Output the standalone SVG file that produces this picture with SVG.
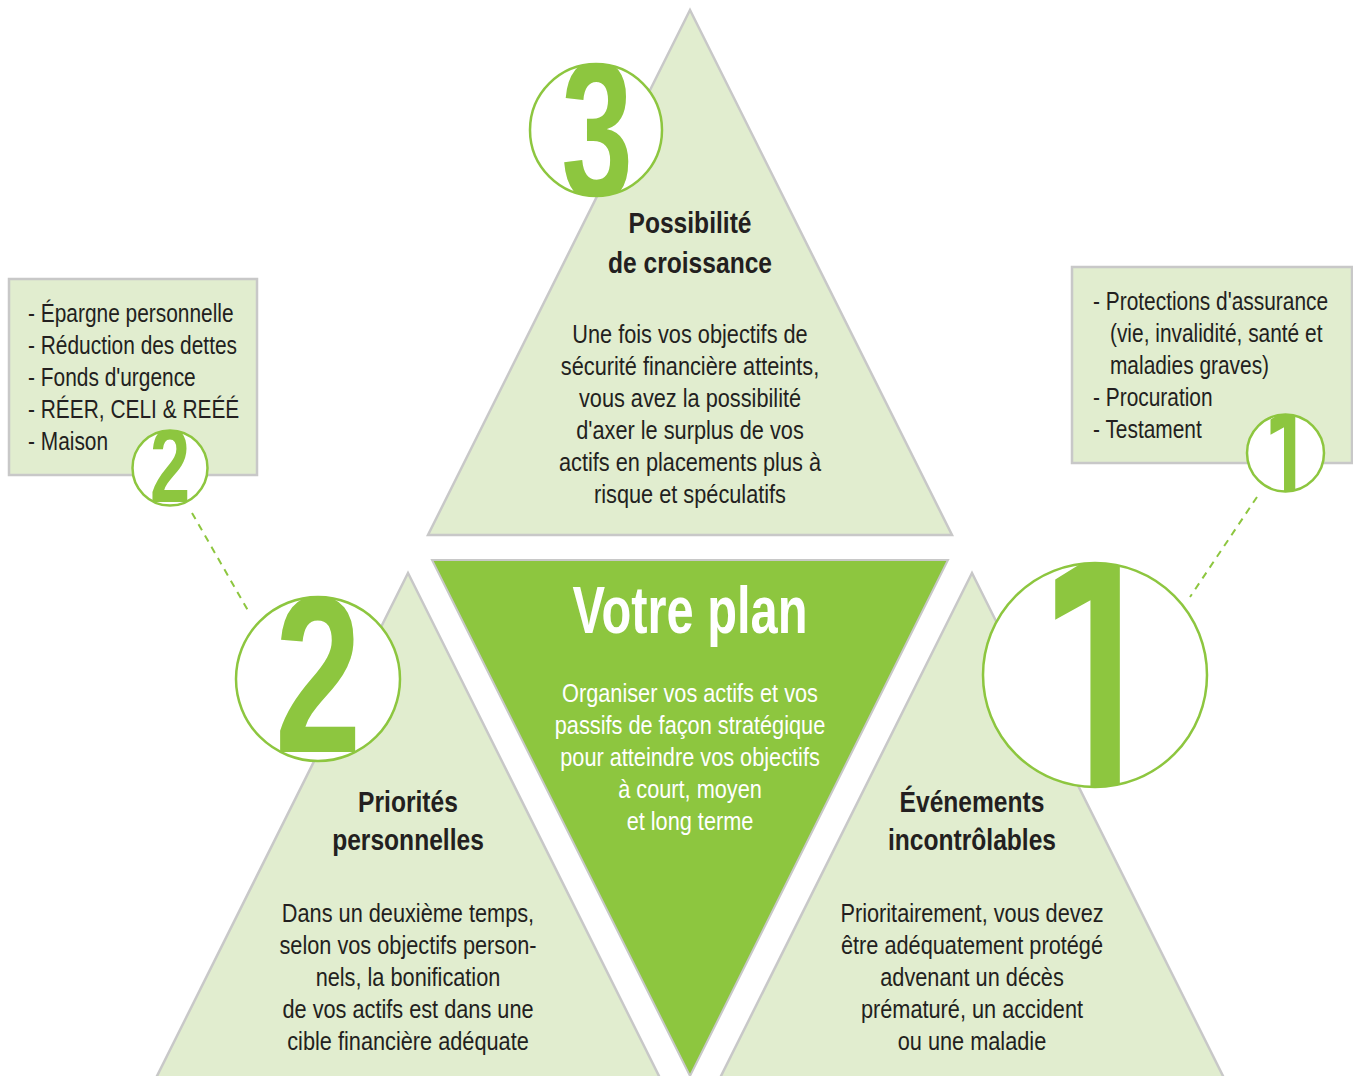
<svg xmlns="http://www.w3.org/2000/svg" width="1353" height="1076" viewBox="0 0 1353 1076">
<style>
.tri{fill:#e1edcf;stroke:#c8c8c8;stroke-width:2.5}
.plan{fill:#8dc63f;stroke:#c8c8c8;stroke-width:2}
.box{fill:#e1edcf;stroke:#c8c8c8;stroke-width:2.5}
.ring{fill:#ffffff;stroke:#8dc63f;stroke-width:2.5}
.t{font-family:"Liberation Sans",Arial,sans-serif;fill:#231f20}
.body{font-size:26.5px;text-anchor:middle}
.head{font-size:30px;font-weight:bold;text-anchor:middle}
.list{font-size:25.5px}
.w{fill:#ffffff}
.dig{font-family:"Liberation Sans",Arial,sans-serif;font-weight:bold;fill:#8dc63f;text-anchor:middle}
.one{font-family:Roboto,"Liberation Sans",sans-serif}
.dash{stroke:#8dc63f;stroke-width:2;stroke-dasharray:7 6;fill:none}
</style>
<defs>
<clipPath id="c3"><circle cx="596" cy="130" r="66"/></clipPath>
<clipPath id="c2big"><circle cx="318" cy="679" r="82"/></clipPath>
<clipPath id="c1big"><circle cx="1095" cy="675" r="112"/></clipPath>
<clipPath id="c2s"><circle cx="170" cy="468" r="37.5"/></clipPath>
<clipPath id="c1s"><circle cx="1285.5" cy="453" r="38.5"/></clipPath>
</defs>

<g id="connectors">
<line class="dash" x1="192" y1="513" x2="250" y2="614"/>
<line class="dash" x1="1257" y1="497" x2="1190" y2="597"/>
</g>

<g id="node-croissance">
<polygon class="tri" points="690,10 952,535 428,535"/>
<g transform="translate(690,0) scale(0.82,1)">
<text class="t head" x="0" y="233">Possibilité</text>
<text class="t head" x="0" y="273">de croissance</text>
<text class="t body" x="0" y="343">Une fois vos objectifs de</text>
<text class="t body" x="0" y="375">sécurité financière atteints,</text>
<text class="t body" x="0" y="407">vous avez la possibilité</text>
<text class="t body" x="0" y="439">d'axer le surplus de vos</text>
<text class="t body" x="0" y="471">actifs en placements plus à</text>
<text class="t body" x="0" y="503">risque et spéculatifs</text>
</g>
</g>

<g id="node-plan">
<polygon class="plan" points="432,560 948,560 690,1076"/>
<text class="t w" x="690" y="633" font-size="66" font-weight="bold" text-anchor="middle" textLength="235" lengthAdjust="spacingAndGlyphs">Votre plan</text>
<g transform="translate(690,0) scale(0.82,1)">
<text class="t body w" x="0" y="702">Organiser vos actifs et vos</text>
<text class="t body w" x="0" y="734">passifs de façon stratégique</text>
<text class="t body w" x="0" y="766">pour atteindre vos objectifs</text>
<text class="t body w" x="0" y="798">à court, moyen</text>
<text class="t body w" x="0" y="830">et long terme</text>
</g>
</g>

<g id="node-priorites">
<polygon class="tri" points="408,573 660,1078 156,1078"/>
<g transform="translate(408,0) scale(0.82,1)">
<text class="t head" x="0" y="812">Priorités</text>
<text class="t head" x="0" y="850">personnelles</text>
<text class="t body" x="0" y="922">Dans un deuxième temps,</text>
<text class="t body" x="0" y="954">selon vos objectifs person-</text>
<text class="t body" x="0" y="986">nels, la bonification</text>
<text class="t body" x="0" y="1018">de vos actifs est dans une</text>
<text class="t body" x="0" y="1050">cible financière adéquate</text>
</g>
</g>

<g id="node-evenements">
<polygon class="tri" points="972,573 1224,1078 720,1078"/>
<g transform="translate(972,0) scale(0.82,1)">
<text class="t head" x="0" y="812">Événements</text>
<text class="t head" x="0" y="850">incontrôlables</text>
<text class="t body" x="0" y="922">Prioritairement, vous devez</text>
<text class="t body" x="0" y="954">être adéquatement protégé</text>
<text class="t body" x="0" y="986">advenant un décès</text>
<text class="t body" x="0" y="1018">prématuré, un accident</text>
<text class="t body" x="0" y="1050">ou une maladie</text>
</g>
</g>

<g id="badge-3">
<circle class="ring" cx="596" cy="130" r="66"/>
<g clip-path="url(#c3)"><text class="dig" font-size="161" transform="translate(597,200) scale(0.8,1.25)">3</text></g>
</g>

<g id="badge-2-big">
<circle class="ring" cx="318" cy="679" r="82"/>
<g clip-path="url(#c2big)"><text class="dig" font-size="190" transform="translate(318,752) scale(0.82,1.17)">2</text></g>
</g>

<g id="badge-1-big">
<circle class="ring" cx="1095" cy="675" r="112"/>
<g clip-path="url(#c1big)"><text class="dig one" font-size="275" transform="translate(1098,800) scale(0.76,1.32)">1</text></g>
</g>

<g id="box-priorites">
<rect class="box" x="9" y="279" width="248" height="196"/>
<g transform="translate(28,0) scale(0.82,1)">
<text class="t list" x="0" y="322">- Épargne personnelle</text>
<text class="t list" x="0" y="354">- Réduction des dettes</text>
<text class="t list" x="0" y="386">- Fonds d'urgence</text>
<text class="t list" x="0" y="418">- RÉER, CELI &amp; REÉÉ</text>
<text class="t list" x="0" y="450">- Maison</text>
</g>
<circle class="ring" cx="170" cy="468" r="37.5"/>
<g clip-path="url(#c2s)"><text class="dig" font-size="88" transform="translate(170,502) scale(0.82,1.2)">2</text></g>
</g>

<g id="box-evenements">
<rect class="box" x="1072" y="267" width="280" height="196"/>
<g transform="translate(1093,0) scale(0.82,1)">
<text class="t list" x="0" y="310">- Protections d'assurance</text>
<text class="t list" x="20.7" y="342">(vie, invalidité, santé et</text>
<text class="t list" x="20.7" y="374">maladies graves)</text>
<text class="t list" x="0" y="406">- Procuration</text>
<text class="t list" x="0" y="438">- Testament</text>
</g>
<circle class="ring" cx="1285.5" cy="453" r="38.5"/>
<g clip-path="url(#c1s)"><text class="dig one" font-size="105" transform="translate(1287,503) scale(0.76,1.3)">1</text></g>
</g>
</svg>
